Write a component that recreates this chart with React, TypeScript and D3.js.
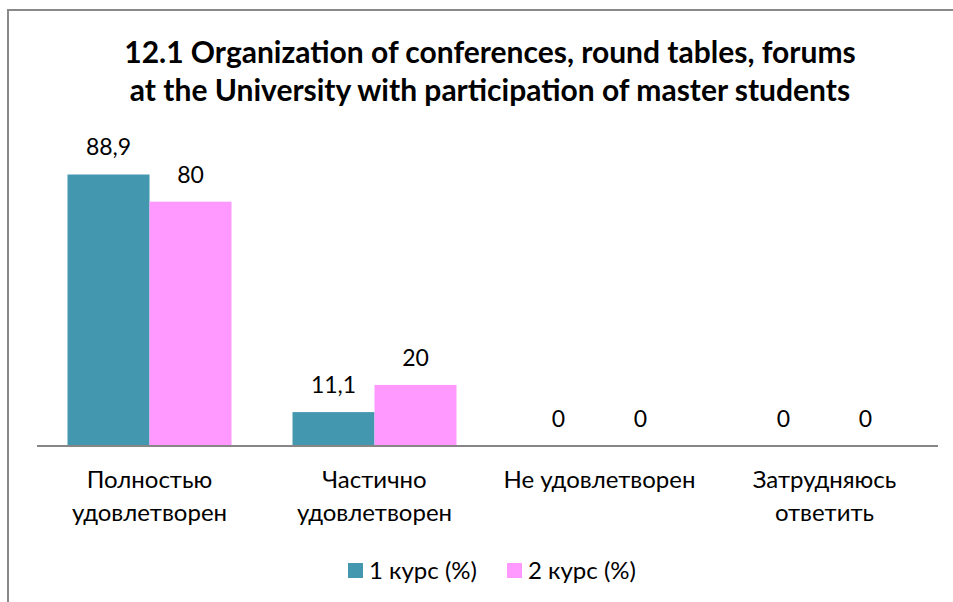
import React from "react";
import * as d3 from "d3";

const titleLines = [
  "12.1 Organization of conferences, round tables, forums",
  "at the University with participation of master students",
];
const categories = [
  ["Полностью", "удовлетворен"],
  ["Частично", "удовлетворен"],
  ["Не удовлетворен"],
  ["Затрудняюсь", "ответить"],
];
const seriesNames = ["1 курс (%)", "2 курс (%)"];
const series1 = [88.9, 11.1, 0, 0];
const series2 = [80, 20, 0, 0];
const colors = ["#4397AF", "#FF99FF"];

const W = 953;
const H = 602;
const FONT = "Lato, 'Open Sans', sans-serif";

export default function App() {
  const catKeys = categories.map((c) => c.join(" "));
  const x0 = d3.scaleBand<string>().domain(catKeys).range([37, 937]).paddingInner(0).paddingOuter(0);
  const x1 = d3
    .scaleBand<string>()
    .domain(seriesNames)
    .range([0, x0.bandwidth()])
    .paddingInner(0)
    .paddingOuter(0.372);
  const y = d3.scaleLinear().domain([0, 100]).range([446, 140.6]);
  const data = [series1, series2];
  const fmt = (v: number) => String(v).replace(".", ",");

  return (
    <svg
      width={W}
      height={H}
      style={{ position: "absolute", left: 0, top: 0, background: "#fff" }}
      fontFamily={FONT}
    >
      <rect x={0} y={0} width={W} height={H} fill="#fff" />
      <rect x={8} y={10} width={W + 20} height={H + 20} fill="none" stroke="#898989" strokeWidth={2} />
      {titleLines.map((t, i) => (
        <text
          key={i}
          x={490}
          y={63 + i * 38}
          textAnchor="middle"
          fontSize={30}
          fontWeight="bold"
          fill="#000"
        >
          {t}
        </text>
      ))}
      {data.map((vals, si) =>
        vals.map((v, ci) => {
          const xb = (x0(catKeys[ci]) ?? 0) + (x1(seriesNames[si]) ?? 0);
          return (
            <g key={`${si}-${ci}`}>
              {v > 0 && (
                <rect x={xb} y={y(v)} width={x1.bandwidth()} height={y(0) - y(v)} fill={colors[si]} />
              )}
              <text
                x={xb + x1.bandwidth() / 2}
                y={y(v) - 19}
                textAnchor="middle"
                fontSize={23}
                fill="#000"
              >
                {fmt(v)}
              </text>
            </g>
          );
        })
      )}
      <line x1={37} x2={938} y1={446} y2={446} stroke="#868686" strokeWidth={2} />
      {categories.map((lines, ci) => (
        <text
          key={ci}
          x={(x0(catKeys[ci]) ?? 0) + x0.bandwidth() / 2}
          y={488}
          textAnchor="middle"
          fontSize={24}
          fill="#000"
        >
          {lines.map((l, li) => (
            <tspan key={li} x={(x0(catKeys[ci]) ?? 0) + x0.bandwidth() / 2} dy={li === 0 ? 0 : 33}>
              {l}
            </tspan>
          ))}
        </text>
      ))}
      {seriesNames.map((s, i) => {
        const lx = [348, 507][i];
        return (
          <g key={s}>
            <rect x={lx} y={563} width={15} height={15} fill={colors[i]} />
            <text x={lx + 21} y={579} fontSize={24} fill="#000">
              {s}
            </text>
          </g>
        );
      })}
    </svg>
  );
}
